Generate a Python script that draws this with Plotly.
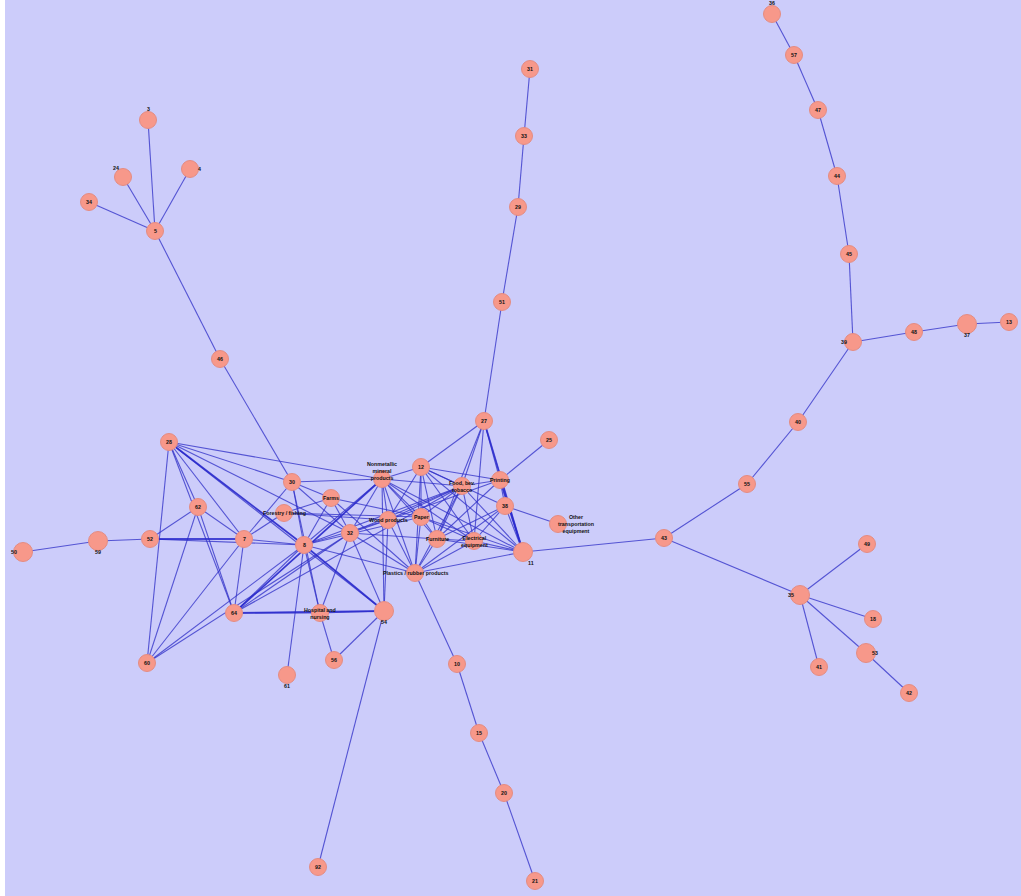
import plotly.graph_objects as go

# ---- data ----
node_names = ["36", "57", "47", "44", "45", "39", "48", "37", "13", "40", "55", "43",
              "35", "49", "18", "53", "41", "42", "31", "33", "29", "51", "27", "25",
              "12", "Printing", "Food, bev. tobacco", "38", "Other transportation equipment",
              "11", "Nonmetallic mineral products", "Farms", "30", "Forestry / fishing",
              "Wood products", "Paper", "32", "8", "7", "Furniture", "Electrical equipment",
              "Plastics / rubber products", "28", "62", "52", "59", "50", "60", "64",
              "Hospital and nursing", "54", "56", "61", "92", "10", "15", "20", "21",
              "5", "3", "24", "4", "34", "46"]
node_x = [772, 794, 818, 837, 849, 853, 914, 967, 1009, 798, 747, 664,
          800, 867, 873, 866, 819, 909, 530, 524, 518, 502, 484, 549,
          421, 500, 462, 505, 558,
          523, 382, 331, 292, 284,
          388, 421, 350, 304, 244, 437, 474,
          415, 169, 198, 150, 98, 23, 147, 234,
          320, 384, 334, 287, 318, 457, 479, 504, 535,
          155, 148, 123, 190, 89, 220]
node_y = [14, 55, 110, 176, 254, 342, 332, 324, 322, 422, 484, 538,
          595, 544, 619, 653, 667, 693, 69, 136, 207, 302, 421, 440,
          467, 480, 486, 506, 524,
          552, 479, 498, 482, 513,
          520, 517, 533, 545, 539, 539, 541,
          573, 442, 507, 539, 541, 552, 663, 613,
          613, 611, 660, 675, 867, 664, 733, 793, 881,
          231, 120, 177, 169, 202, 359]

edges = [
    # outer trees
    ("36", "57"), ("57", "47"), ("47", "44"), ("44", "45"), ("45", "39"), ("39", "48"),
    ("48", "37"), ("37", "13"), ("39", "40"), ("40", "55"), ("55", "43"), ("43", "11"),
    ("43", "35"), ("35", "49"), ("35", "18"), ("35", "53"), ("35", "41"), ("53", "42"),
    ("31", "33"), ("33", "29"), ("29", "51"), ("51", "27"), ("25", "Printing"),
    ("5", "3"), ("5", "24"), ("5", "4"), ("5", "34"), ("5", "46"), ("46", "30"),
    ("Plastics / rubber products", "10"), ("10", "15"), ("15", "20"), ("20", "21"),
    ("54", "92"), ("54", "56"), ("Hospital and nursing", "56"), ("8", "61"),
    ("52", "59"), ("59", "50"), ("38", "Other transportation equipment"),
    # core
    ("28", "Nonmetallic mineral products"), ("28", "30"), ("28", "32"), ("28", "8"),
    ("28", "54"), ("28", "7"), ("28", "62"), ("28", "64"), ("28", "60"),
    ("62", "52"), ("62", "7"), ("62", "64"), ("62", "60"),
    ("52", "7"), ("52", "8"), ("60", "7"), ("60", "8"), ("60", "32"),
    ("7", "30"), ("7", "Forestry / fishing"), ("7", "64"), ("7", "8"),
    ("8", "30"), ("8", "Nonmetallic mineral products"), ("8", "Wood products"),
    ("8", "Paper"), ("8", "Plastics / rubber products"), ("8", "54"),
    ("8", "Hospital and nursing"), ("8", "64"), ("8", "Farms"),
    ("64", "Nonmetallic mineral products"), ("64", "Food, bev. tobacco"), ("64", "32"),
    ("64", "54"), ("64", "Hospital and nursing"),
    ("54", "Hospital and nursing"), ("54", "32"), ("54", "Wood products"),
    ("54", "Nonmetallic mineral products"),
    ("Hospital and nursing", "32"),
    ("30", "Nonmetallic mineral products"), ("30", "Farms"), ("30", "32"),
    ("30", "Hospital and nursing"),
    ("Farms", "Forestry / fishing"), ("Farms", "32"), ("Farms", "Paper"),
    ("Farms", "Plastics / rubber products"),
    ("Forestry / fishing", "Wood products"), ("Forestry / fishing", "Paper"),
    ("32", "Nonmetallic mineral products"), ("32", "Wood products"),
    ("32", "Food, bev. tobacco"), ("32", "Furniture"), ("32", "Plastics / rubber products"),
    ("Nonmetallic mineral products", "12"), ("Nonmetallic mineral products", "Wood products"),
    ("Nonmetallic mineral products", "Paper"), ("Nonmetallic mineral products", "Furniture"),
    ("Nonmetallic mineral products", "Electrical equipment"),
    ("Nonmetallic mineral products", "Plastics / rubber products"),
    ("Nonmetallic mineral products", "11"), ("Nonmetallic mineral products", "Food, bev. tobacco"),
    ("12", "27"), ("12", "Printing"), ("12", "Food, bev. tobacco"), ("12", "Paper"),
    ("12", "Furniture"), ("12", "Plastics / rubber products"), ("12", "Electrical equipment"),
    ("12", "11"), ("12", "38"), ("12", "Wood products"),
    ("27", "Food, bev. tobacco"), ("27", "Printing"), ("27", "11"),
    ("27", "Electrical equipment"), ("27", "Furniture"),
    ("Printing", "38"), ("Printing", "11"), ("Printing", "Food, bev. tobacco"),
    ("Printing", "Wood products"), ("Printing", "Furniture"),
    ("38", "11"), ("38", "Furniture"), ("38", "Electrical equipment"),
    ("38", "Plastics / rubber products"),
    ("Food, bev. tobacco", "Paper"), ("Food, bev. tobacco", "Furniture"),
    ("Food, bev. tobacco", "Electrical equipment"), ("Food, bev. tobacco", "11"),
    ("Food, bev. tobacco", "Plastics / rubber products"), ("Food, bev. tobacco", "Wood products"),
    ("Food, bev. tobacco", "8"),
    ("Paper", "Furniture"), ("Paper", "Plastics / rubber products"), ("Paper", "11"),
    ("Paper", "Electrical equipment"),
    ("Furniture", "Electrical equipment"), ("Furniture", "11"),
    ("Furniture", "Plastics / rubber products"),
    ("Electrical equipment", "11"), ("Electrical equipment", "Plastics / rubber products"),
    ("11", "Plastics / rubber products"), ("Wood products", "Plastics / rubber products"),
]
heavy_edges = [("27", "11"), ("Printing", "11"), ("52", "7"), ("64", "54"), ("28", "8"),
               ("8", "54"), ("64", "Nonmetallic mineral products")]

display = {
    "Nonmetallic mineral products": "Nonmetallic<br>mineral<br>products",
    "Food, bev. tobacco": "Food, bev.<br>tobacco",
    "Electrical equipment": "Electrical<br>equipment",
    "Other transportation equipment": "Other<br>transportation<br>equipment",
    "Hospital and nursing": "Hospital and<br>nursing",
}
label_pos = {"3": "t", "36": "t", "24": "tl", "4": "r", "39": "l", "35": "l", "50": "l",
             "53": "r", "37": "b", "59": "b", "61": "b", "54": "b", "11": "br",
             "Nonmetallic mineral products": "t3", "Other transportation equipment": "r3"}
big_nodes = ["54", "11", "37", "59", "50", "35", "53"]

# ---- build ----
pos = {n: (x, y) for n, x, y in zip(node_names, node_x, node_y)}


def seg(elist):
    xs, ys = [], []
    for a, b in elist:
        xs += [pos[a][0], pos[b][0], None]
        ys += [pos[a][1], pos[b][1], None]
    return xs, ys


fig = go.Figure()
ex, ey = seg(edges)
fig.add_trace(go.Scatter(x=ex, y=ey, mode="lines", hoverinfo="skip",
                         line=dict(color="rgba(50,50,200,0.78)", width=1.1)))
hx, hy = seg(heavy_edges)
fig.add_trace(go.Scatter(x=hx, y=hy, mode="lines", hoverinfo="skip",
                         line=dict(color="rgba(40,40,205,0.72)", width=1.8)))
sizes = [19 if n in big_nodes else 17 for n in node_names]
fig.add_trace(go.Scatter(x=node_x, y=node_y, mode="markers", text=node_names,
                         marker=dict(size=sizes, color="rgb(247,152,138)", opacity=1,
                                     line=dict(color="rgb(228,140,130)", width=1))))

shifts = {"c": (0, 0), "t": (0, 11), "tl": (-7, 9), "r": (9, 0), "l": (-9, 0),
          "b": (0, -11), "br": (8, -11), "t3": (0, 8), "r3": (18, 0)}
for n in node_names:
    dx, dy = shifts[label_pos.get(n, "c")]
    fig.add_annotation(x=pos[n][0], y=pos[n][1], text="<b>" + display.get(n, n) + "</b>",
                       showarrow=False, xshift=dx, yshift=dy,
                       xanchor="center", yanchor="middle",
                       font=dict(family="Arial", size=5.3, color="#111111"))

fig.update_layout(
    width=1021, height=896,
    margin=dict(l=5, r=0, t=0, b=0),
    paper_bgcolor="white", plot_bgcolor="rgb(204,204,250)",
    showlegend=False,
    xaxis=dict(range=[5, 1021], visible=False, fixedrange=True),
    yaxis=dict(range=[896, 0], visible=False, fixedrange=True),
)
fig.write_html("out.html", config={"displayModeBar": False},
               post_script="document.body.style.margin='0';")
